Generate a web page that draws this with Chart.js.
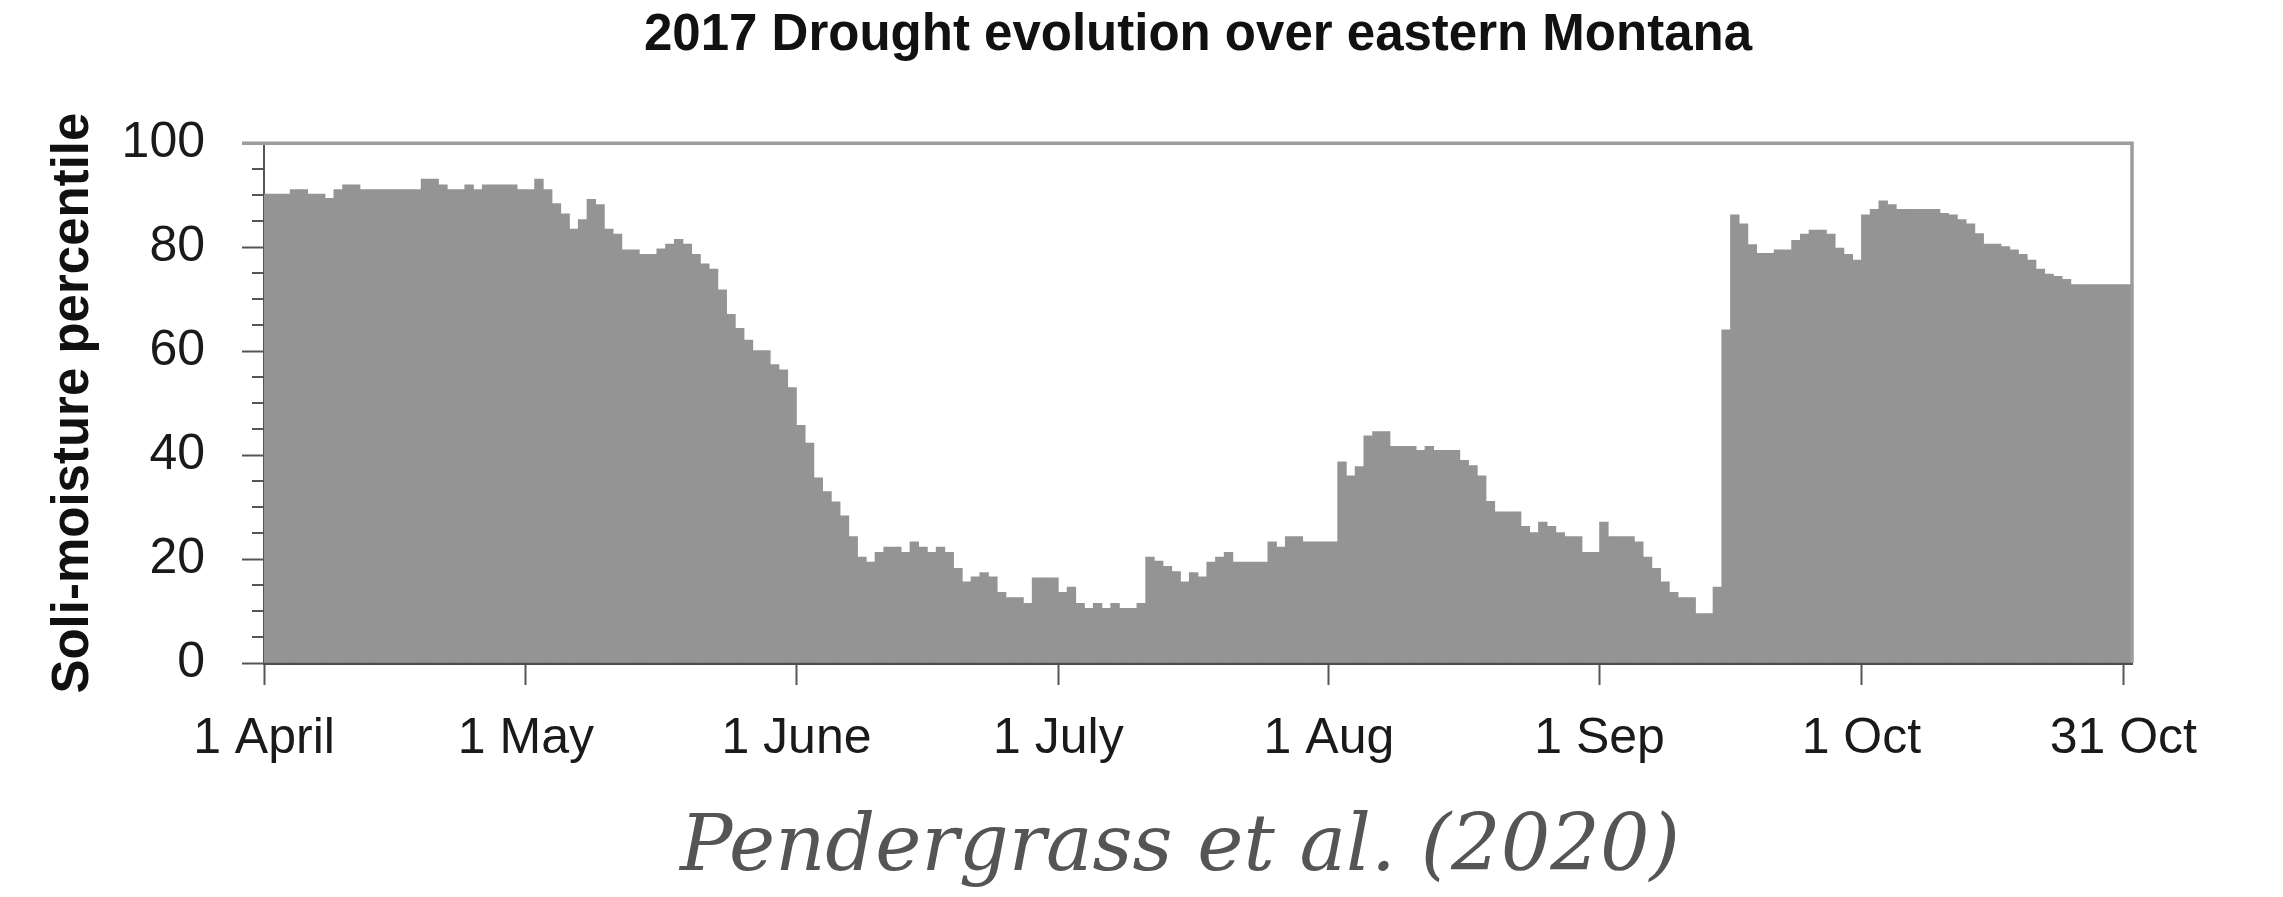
<!DOCTYPE html>
<html>
<head>
<meta charset="utf-8">
<script src="https://cdn.jsdelivr.net/npm/chart.js@4.4.1/dist/chart.umd.min.js"></script>
<style>
  html, body { margin: 0; padding: 0; background: #fff; }
  #wrap { position: relative; width: 2283px; height: 897px; overflow: hidden; }
  #cite {
    position: absolute; left: 680px; top: 804px;
    font: italic 78px 'DejaVu Serif', serif; line-height: 78px;
    color: #555; white-space: nowrap;
  }
</style>
</head>
<body>
<div id="wrap">
  <canvas id="c" width="2283" height="897"></canvas>
  <div id="cite">Pendergrass et al. (2020)</div>
</div>
<script>
// Daily soil-moisture percentile, 1 April – 31 October 2017 (one value per day)
const percentile = [
  90.2, 90.2, 90.2, 91.1, 91.1, 90.2, 90.2, 89.4, 91.1, 92.0,
  92.0, 91.1, 91.1, 91.1, 91.1, 91.1, 91.1, 91.1, 93.1, 93.1,
  92.0, 91.1, 91.1, 92.0, 91.1, 92.0, 92.0, 92.0, 92.0, 91.1,
  91.1, 93.1, 91.1, 88.4, 86.4, 83.5, 85.3, 89.2, 88.2, 83.5,
  82.5, 79.5, 79.5, 78.6, 78.6, 79.7, 80.6, 81.5, 80.6, 78.6,
  76.8, 75.8, 71.8, 67.1, 64.4, 62.1, 60.1, 60.1, 57.4, 56.4,
  53.0, 45.7, 42.3, 35.6, 33.0, 31.0, 28.3, 24.3, 20.4, 19.4,
  21.3, 22.3, 22.3, 21.3, 23.3, 22.3, 21.3, 22.3, 21.3, 18.2,
  15.6, 16.6, 17.4, 16.6, 13.6, 12.6, 12.6, 11.5, 16.4, 16.4,
  16.4, 13.6, 14.6, 11.5, 10.5, 11.5, 10.5, 11.5, 10.5, 10.5,
  11.5, 20.4, 19.6, 18.6, 17.6, 15.6, 17.4, 16.6, 19.4, 20.4,
  21.3, 19.4, 19.4, 19.4, 19.4, 23.3, 22.3, 24.3, 24.3, 23.3,
  23.3, 23.3, 23.3, 38.7, 36.0, 37.8, 43.7, 44.5, 44.5, 41.7,
  41.7, 41.7, 40.9, 41.7, 40.9, 40.9, 40.9, 39.0, 38.0, 36.0,
  31.1, 29.1, 29.1, 29.1, 26.3, 25.1, 27.1, 26.3, 25.1, 24.3,
  24.3, 21.3, 21.3, 27.1, 24.3, 24.3, 24.3, 23.3, 20.4, 18.2,
  15.6, 13.6, 12.6, 12.6, 9.5, 9.5, 14.6, 64.1, 86.2, 84.5,
  80.5, 78.8, 78.8, 79.5, 79.5, 81.3, 82.5, 83.3, 83.3, 82.5,
  79.8, 78.6, 77.5, 86.2, 87.3, 88.9, 88.2, 87.3, 87.3, 87.3,
  87.3, 87.3, 86.5, 86.2, 85.3, 84.5, 82.6, 80.6, 80.6, 80.1,
  79.5, 78.6, 77.5, 75.8, 74.8, 74.4, 73.8, 72.8, 72.8, 72.8,
  72.8, 72.8, 72.8, 72.8
];

// Day offsets (from 1 April) of the labelled ticks, and their labels
const tickDays   = [0, 30, 61, 91, 122, 153, 183, 213];
const tickLabels = ['1 April', '1 May', '1 June', '1 July', '1 Aug', '1 Sep', '1 Oct', '31 Oct'];

// Y-axis tick spacing
const yMajorStep = 20;
const yMinorStep = 5;

// One category per day, named by its date
const dayLabels = percentile.map((_, i) =>
  new Date(Date.UTC(2017, 3, 1 + i)).toISOString().slice(0, 10));

const FONT = "'Liberation Sans', Arial, Helvetica, sans-serif";

// Grey top/right frame and the short minor ticks on the y axis
const framePlugin = {
  id: 'frame',
  afterDatasetsDraw(chart) {
    const { ctx, chartArea: a, scales: { y } } = chart;
    ctx.save();
    ctx.strokeStyle = '#9c9c9c';
    ctx.lineWidth = 3.5;
    ctx.beginPath();
    ctx.moveTo(a.left - 22, a.top);
    ctx.lineTo(a.right, a.top);
    ctx.lineTo(a.right, a.bottom);
    ctx.stroke();

    ctx.strokeStyle = '#555';
    ctx.lineWidth = 2;
    ctx.beginPath();
    for (let v = y.min + yMinorStep; v < y.max; v += yMinorStep) {
      if (v % yMajorStep === 0) continue;
      const py = Math.round(y.getPixelForValue(v));
      ctx.moveTo(a.left - 12, py);
      ctx.lineTo(a.left, py);
    }
    ctx.stroke();
    ctx.restore();
  }
};

new Chart(document.getElementById('c'), {
  type: 'bar',
  data: {
    labels: dayLabels,
    datasets: [{
      data: percentile,
      backgroundColor: '#949494',
      borderWidth: 0,
      barPercentage: 1,
      categoryPercentage: 1,
      xAxisID: 'x',
      yAxisID: 'y'
    }]
  },
  options: {
    responsive: false,
    animation: false,
    devicePixelRatio: 1,
    layout: { padding: { top: 0, left: 0, right: 151, bottom: 0 } },
    plugins: {
      legend: { display: false },
      tooltip: { enabled: false },
      title: {
        display: true,
        fullSize: false,
        text: '2017 Drought evolution over eastern Montana',
        color: '#111',
        font: { family: FONT, size: 51, weight: 'bold' },
        padding: { top: 5, bottom: 77 }
      }
    },
    scales: {
      x: { type: 'category', display: false, offset: true },
      days: {
        type: 'linear',
        axis: 'x',
        position: 'bottom',
        min: 0,
        max: percentile.length,
        offset: false,
        z: 1,
        afterBuildTicks: s => { s.ticks = tickDays.map(v => ({ value: v })); },
        afterFit: s => { s.height = 234; },
        grid: { offset: false, drawOnChartArea: false, drawTicks: true, tickLength: 22, tickColor: '#555', tickWidth: 2 },
        border: { display: true, color: '#4d4d4d', width: 3 },
        ticks: {
          autoSkip: false, maxRotation: 0, minRotation: 0, padding: 24,
          color: '#1a1a1a',
          font: { family: FONT, size: 50 },
          callback: v => tickLabels[tickDays.indexOf(v)]
        }
      },
      y: {
        position: 'left',
        min: 0,
        max: 100,
        z: 1,
        afterFit: s => { s.width = 264; },
        grid: { drawOnChartArea: false, drawTicks: true, tickLength: 22, tickColor: '#555', tickWidth: 2 },
        border: { display: true, color: '#555', width: 2 },
        ticks: {
          stepSize: yMajorStep, padding: 37,
          color: '#1a1a1a',
          font: { family: FONT, size: 50 }
        },
        title: {
          display: true,
          text: 'Soli-moisture percentile',
          color: '#111',
          font: { family: FONT, size: 51, weight: 'bold' },
          padding: { top: 43, bottom: 0 }
        }
      }
    }
  },
  plugins: [framePlugin]
});
</script>
</body>
</html>
